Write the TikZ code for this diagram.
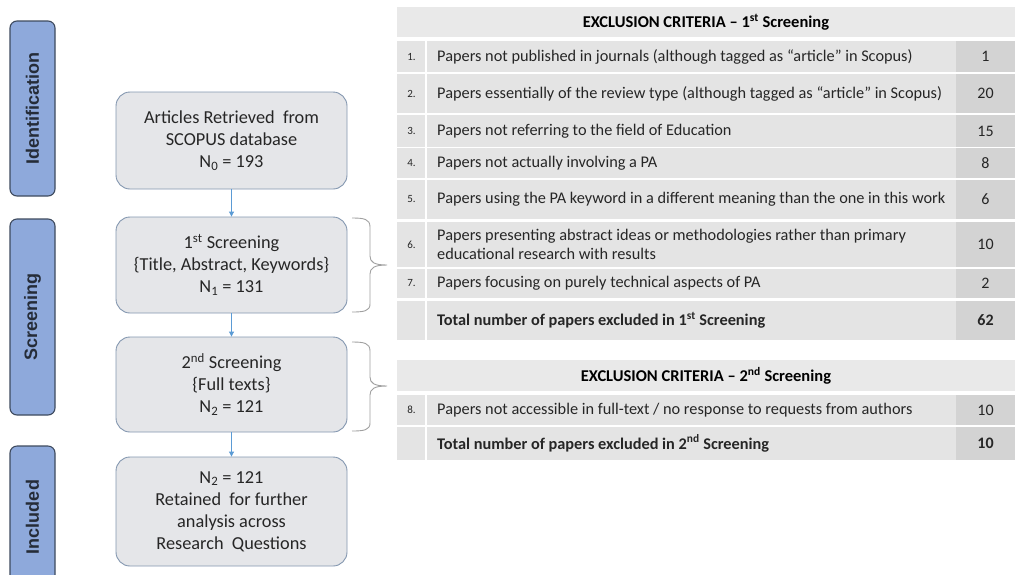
\documentclass[tikz,border=0pt]{standalone}
\usepackage{fontspec}
\setmainfont{Carlito}
\newfontfamily\labfont{Liberation Sans}
\usetikzlibrary{arrows.meta}
\definecolor{sideblue}{HTML}{8EA9DB}
\definecolor{sideedge}{HTML}{3E4A5E}
\definecolor{boxfill}{HTML}{E5E6E9}
\definecolor{boxedge}{HTML}{8497B0}
\definecolor{arrowblue}{HTML}{5B9BD5}
\definecolor{hdrgray}{HTML}{E9E9E9}
\definecolor{rowgray}{HTML}{E4E4E4}
\definecolor{valgray}{HTML}{D3D3D3}
\definecolor{txt}{HTML}{262626}
\definecolor{bracegray}{HTML}{A0A0A0}
\tikzset{
  side/.style={draw=sideedge, fill=sideblue, line width=1.1pt, rounded corners=7pt,
    rotate=90, minimum height=45pt, inner sep=0pt, text=sideedge!60!black,
    font=\labfont\bfseries\fontsize{18}{20}\selectfont},
  flow/.style={draw=boxedge, fill=boxfill, line width=0.9pt, rounded corners=14pt,
    minimum width=231pt, align=center, text=txt, inner sep=0pt,
    font=\fontsize{18.3}{22}\selectfont},
  arr/.style={draw=arrowblue, line width=0.9pt, -{Triangle[length=5pt,width=5pt]}},
  brace/.style={draw=bracegray, line width=0.9pt},
  numtxt/.style={text=txt, inner sep=0pt, font=\fontsize{11}{12}\selectfont},
  crit/.style={text=txt, inner sep=0pt, anchor=west, align=left, font=\fontsize{16.3}{19.5}\selectfont},
  valtxt/.style={text=txt, inner sep=0pt, font=\fontsize{16}{18}\selectfont},
  hdr/.style={text=black, inner sep=0pt, font=\bfseries\fontsize{16.5}{18}\selectfont},
}
\newcommand\critrow[6]{% top, bottom, name, number, text, value
  \fill[rowgray] (397,#1) rectangle (956,#2);
  \fill[valgray] (956,#1) rectangle (1015,#2);
  \draw[white, line width=1.6pt] (426,#1) -- (426,#2);
  \node[numtxt] (n#3) at (411.5,{(#1+#2)/2}) {#4};
  \node[crit] (c#3) at (437,{(#1+#2)/2}) {#5};
  \node[valtxt] (v#3) at (985.5,{(#1+#2)/2}) {#6};
}
\begin{document}
\begin{tikzpicture}[x=1pt,y=-1pt]
\useasboundingbox (0,0) rectangle (1016,574);
\clip (0,0) rectangle (1016,574);
\fill[white] (0,0) rectangle (1016,574);

% side labels
\node[side, minimum width=175pt] (sid) at (32.5,108.5) {Identification};
\node[side, minimum width=196pt] (sscr) at (32.5,317) {Screening};
\node[side, minimum width=142pt] (sinc) at (32.5,517) {Included};

% flow boxes
\node[flow, minimum height=97pt] (b1) at (231.5,140.5)
  {Articles Retrieved\ \ from\\SCOPUS database\\N\textsubscript{0} = 193};
\node[flow, minimum height=96pt] (b2) at (231.5,265)
  {1\textsuperscript{st} Screening\\\{Title, Abstract, Keywords\}\\N\textsubscript{1} = 131};
\node[flow, minimum height=95pt] (b3) at (231.5,384.5)
  {2\textsuperscript{nd} Screening\\\{Full texts\}\\N\textsubscript{2} = 121};
\node[flow, minimum height=109pt] (b4) at (231.5,511.5)
  {N\textsubscript{2} = 121\\Retained\ \ for further\\analysis across\\Research\ \ Questions};

\draw[arr] (b1.south) -- (b2.north);
\draw[arr] (b2.south) -- (b3.north);
\draw[arr] (b3.south) -- (b4.north);

% braces
\coordinate (t1) at (387,265);
\coordinate (t2) at (387,386);
\draw[brace] (352,218) .. controls (364,218) and (370,219) .. (370,227) -- (370,256)
  .. controls (370,262) and (374,265) .. (t1)
  .. controls (374,265) and (370,268) .. (370,274) -- (370,304)
  .. controls (370,311) and (364,312) .. (352,312);
\draw[brace] (352,342) .. controls (364,342) and (370,343) .. (370,351) -- (370,377)
  .. controls (370,383) and (374,386) .. (t2)
  .. controls (374,386) and (370,389) .. (370,395) -- (370,423)
  .. controls (370,430) and (364,431) .. (352,431);

% table 1
\fill[hdrgray] (397,7) rectangle (1015,37);
\node[hdr] (h1) at (706,22) {EXCLUSION CRITERIA -- 1\textsuperscript{st} Screening};
\critrow{41}{72}{r1}{1.}{Papers not published in journals (although tagged as “article” in Scopus)}{1}
\critrow{74}{113}{r2}{2.}{Papers essentially of the review type (although tagged as “article” in Scopus)}{20}
\critrow{115}{147}{r3}{3.}{Papers not referring to the field of Education}{15}
\critrow{148}{178}{r4}{4.}{Papers not actually involving a PA}{8}
\critrow{180}{219}{r5}{5.}{Papers using the PA keyword in a different meaning than the one in this work}{6}
\critrow{222}{267}{r6}{6.}{Papers presenting abstract ideas or methodologies rather than primary\\educational research with results}{10}
\critrow{269}{298}{r7}{7.}{Papers focusing on purely technical aspects of PA}{2}
\critrow{301}{340}{t1r}{}{\textbf{Total number of papers excluded in 1\textsuperscript{st} Screening}}{\textbf{62}}

% table 2
\fill[hdrgray] (397,360) rectangle (1015,391);
\node[hdr] (h2) at (706,375.5) {EXCLUSION CRITERIA -- 2\textsuperscript{nd} Screening};
\critrow{395}{425}{r8}{8.}{Papers not accessible in full-text / no response to requests from authors}{10}
\critrow{427}{460}{t2r}{}{\textbf{Total number of papers excluded in 2\textsuperscript{nd} Screening}}{\textbf{10}}
\end{tikzpicture}
\end{document}
